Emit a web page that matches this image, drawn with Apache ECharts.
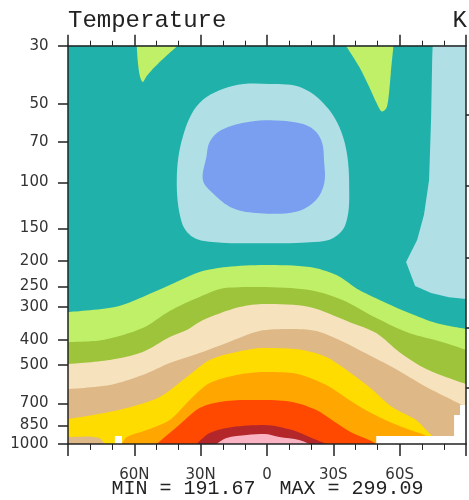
<!DOCTYPE html>
<html><head><meta charset="utf-8">
<style>html,body{margin:0;padding:0;background:#fff}#c{width:469px;height:500px}</style>
<script src="https://cdn.jsdelivr.net/npm/echarts@6/dist/echarts.min.js"></script>
</head><body><div id="c"></div>
<script>
// ---- axis ticks / labels ----
const latLabels = {'60':'60N','30':'30N','0':'0','-30':'30S','-60':'60S'};
const pressureTicks = [30,50,70,100,150,200,250,300,400,500,700,850,1000];
const heightTickPressures = [55.2,103.2,194.6,360,611];

// ---- contour boundaries: [latitude, pressure hPa] ----
const tipLeft  = [[58.9,30],[58.4,34.6],[57.5,39.2],[56.2,41.3],[54.4,39.2],[50.8,36.2],[46.2,33.2],[40.4,30]];
const tipRight = [[-35.7,30],[-41.7,36.1],[-46.2,43.1],[-50.0,50.6],[-52.0,53.6],[-54.0,51.9],[-55.0,47.0],[-56.0,38.2],[-57.2,30]];
const stripRight = [[-74.9,30],[-90,30],[-90,279],[-82.3,275],[-74.2,265],[-67.0,249],[-62.9,201.5],[-67.9,166],[-71.0,133],[-73.3,97.9],[-74.2,57.7],[-74.7,34]];
const ringOuter = [[-1.1,42.0],[-16.0,43.5],[-28.2,52.9],[-35.4,71.9],[-37.2,111.7],[-35.4,145.5],[-30.0,163],[-21.4,169],[3.4,171],[24.6,169],[33.6,161.7],[38.6,141.7],[40.8,97.9],[38.1,67],[30.5,49.7],[15.6,42.8]];
const coreInner = [[25.9,69.9],[20.7,63.0],[7.9,58.6],[-7.1,58.1],[-19.2,61.2],[-24.5,68.8],[-25.9,84.5],[-25.9,100.8],[-22.2,116.7],[-13.2,129.4],[3.4,131.2],[15.4,125.6],[24.5,110],[29.0,97.9],[27.4,79.7]];

const level1 = [[90,313],[68.8,299.5],[56.2,274],[44.0,247],[30.5,220],[18.3,210.6],[1.1,206.9],[-19.2,210.6],[-31.4,226],[-41.7,258],[-53.9,289],[-64.3,316],[-76.5,345],[-90,363.5]];
const level2 = [[90,407.7],[74.2,400.6],[56.2,360.4],[44.0,310],[30.5,274],[18.3,253],[3.4,251],[-19.2,258],[-34.1,281.6],[-49.4,330],[-64.3,376.6],[-79.2,407.7],[-90,437]];
const level3 = [[90,494.8],[71.1,477.6],[56.2,445],[44.0,390],[36.3,366.6],[30.5,341.7],[24.6,324.3],[12.4,299.5],[1.1,291.7],[-19.2,299.5],[-37.2,341.7],[-49.4,376.6],[-59.8,445],[-72.0,517],[-90,590]];
const level4 = [[90,616.6],[71.1,595],[56.2,545],[44.0,490.5],[30.5,449],[18.3,411],[3.4,370],[-10.2,363.5],[-22.3,370],[-32.7,400.6],[-41.7,437],[-56.6,508],[-72.0,605.6],[-81.0,661.6],[-90,722.4]];
const level5 = [[90,803],[78.7,775],[63.4,728.6],[48.5,661.6],[36.3,554.8],[25.9,477.6],[13.8,445],[1.1,429.7],[-16.0,437],[-26.8,465],[-34.1,508],[-46.2,605.6],[-56.6,722.4],[-67.4,810],[-72.0,885],[-74.7,933],[-77.8,1000]];
const level6 = [[65.6,1000],[63.4,941],[54.4,885],[44.0,810],[33.6,661.6],[25.9,585],[13.8,545],[1.1,530.6],[-11.5,535.5],[-26.8,595],[-37.2,679],[-46.2,755],[-56.6,831.6],[-67.4,900.6],[-72.0,933],[-74.2,1000]];
const level7 = [[49.9,1000],[40.8,861.7],[30.5,728.6],[21.4,691],[9.2,679],[1.1,679],[-11.5,691],[-22.3,742],[-31.4,831.6],[-38.6,908],[-46.2,966],[-49.4,1000]];
const level8 = [[31.8,1000],[25.9,908],[15.6,861.7],[1.1,846],[-11.5,885],[-19.2,941],[-26.8,1000]];
const level9 = [[22.8,1000],[18.3,949],[9.2,924.6],[1.1,916.6],[-5.6,941],[-14.6,966],[-19.2,1000]];

const coldPatch = [[90,941],[80,937],[75.6,950],[73.3,1000],[90,1000]];
const missingLeft = [[68.8,933],[65.6,933],[65.6,1000],[68.8,1000]];
const missingRight = [[-49.4,933],[-84.6,933],[-84.6,775],[-87.3,775],[-87.3,710],[-90,710],[-90,1000],[-49.4,1000]];

const colors = {
  teal:'#20b2aa', powder:'#b0e0e6', core:'#7b9ff0', lgreen:'#c0ef68', ygreen:'#9dc43a',
  wheat:'#f6e2bd', burly:'#deb887', gold:'#ffdc00', orange:'#ffa600', ored:'#ff4800',
  brick:'#b3262a', pink:'#f9b3c2'
};

let zc = 2;
function areaLine(data, color, origin) {
  return {type:'line', data:data, smooth:0.3, showSymbol:false, symbol:'none',
    lineStyle:{width:0, opacity:0}, areaStyle:{color:color, opacity:1, origin:origin},
    silent:true, clip:true, z:zc++, animation:false};
}
function poly(pts, color, smooth) {
  return {type:'custom', clip:true, silent:true, z:zc++, animation:false,
    data:[pts[0]],
    renderItem:function(params, api){
      return {type:'polygon', shape:{points:pts.map(function(p){return api.coord(p);}), smooth:smooth||0},
        style:{fill:color, stroke:null}};
    }};
}

const series = [
  areaLine(tipLeft, colors.lgreen, 'start'),
  areaLine(tipRight, colors.lgreen, 'start'),
  poly(stripRight, colors.powder, 0),
  poly(ringOuter, colors.powder, 0.35),
  poly(coreInner, colors.core, 0.35),
  areaLine(level1, colors.lgreen, 'end'),
  areaLine(level2, colors.ygreen, 'end'),
  areaLine(level3, colors.wheat, 'end'),
  areaLine(level4, colors.burly, 'end'),
  areaLine(level5, colors.gold, 'end'),
  areaLine(level6, colors.orange, 'end'),
  areaLine(level7, colors.ored, 'end'),
  areaLine(level8, colors.brick, 'end'),
  areaLine(level9, colors.pink, 'end'),
  poly(coldPatch, colors.burly, 0),
  poly(missingLeft, '#ffffff', 0),
  poly(missingRight, '#ffffff', 0)
];

const axisCol = '#222';
const labelFont = {fontFamily:'DejaVu Sans', fontSize:15, color:'#333'};
function xAx(pos, major, minor, showLabel) {
  return {type:'value', position:pos, min:-90, max:90, interval:30, inverse:true, z:50,
    axisLine:{show:true, onZero:false, lineStyle:{color:axisCol, width:1.5}},
    axisTick:{show:true, inside:false, length:major, lineStyle:{color:axisCol, width:1.5}},
    minorTick:{show:true, splitNumber:3, length:minor, lineStyle:{color:axisCol, width:1}},
    splitLine:{show:false}, minorSplitLine:{show:false},
    axisLabel:Object.assign({show:showLabel, margin:24, formatter:function(v){return latLabels[String(v)] || '';}}, labelFont)};
}
function yAx(pos, ticks, len, showLabel) {
  return {type:'log', logBase:10, position:pos, min:30, max:1000, inverse:true, z:50,
    axisLine:{show:true, onZero:false, lineStyle:{color:axisCol, width:1.5}},
    axisTick:{show:true, length:len, customValues:ticks, lineStyle:{color:axisCol, width:1.5}},
    minorTick:{show:false}, splitLine:{show:false},
    axisLabel:Object.assign({show:showLabel, margin:19.5, customValues:ticks, formatter:function(v){return String(v);}}, labelFont)};
}

const chart = echarts.init(document.getElementById('c'), null, {renderer:'canvas'});
chart.setOption({
  animation:false,
  grid:{left:68, right:2, top:45.7, bottom:56.1, show:true, backgroundColor:colors.teal, borderWidth:0},
  xAxis:[xAx('bottom',12,6,true), xAx('top',11,5,false)],
  yAxis:[yAx('left',pressureTicks,10,true), yAx('right',heightTickPressures,6,false)],
  series:series,
  graphic:[
    {type:'text', x:68, y:20.5, z:100, style:{text:'Temperature', font:'24px "Liberation Mono"', fill:'#222', verticalAlign:'middle', align:'left'}},
    {type:'text', x:467, y:20.5, z:100, style:{text:'K', font:'24px "Liberation Mono"', fill:'#222', verticalAlign:'middle', align:'right'}},
    {type:'text', x:267.5, y:489, z:100, style:{text:'MIN = 191.67  MAX = 299.09', font:'20px "Liberation Mono"', fill:'#222', verticalAlign:'middle', align:'center'}}
  ]
});
</script></body></html>
